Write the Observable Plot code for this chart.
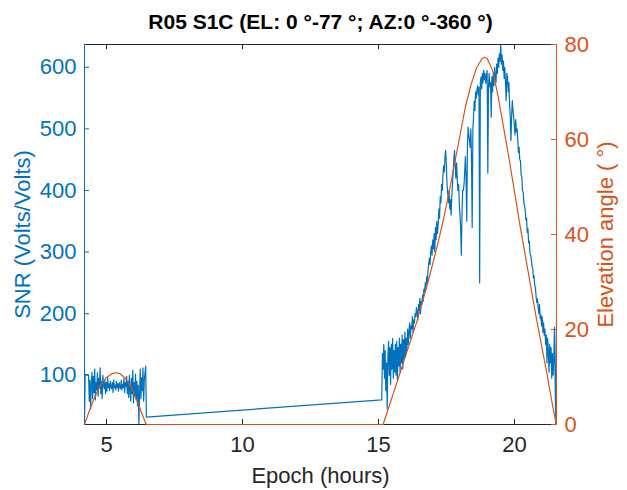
<!DOCTYPE html>
<html><head><meta charset="utf-8">
<script src="https://cdn.jsdelivr.net/npm/d3@7"></script>
<script src="https://cdn.jsdelivr.net/npm/@observablehq/plot@0.6"></script>
<style>
body{margin:0;background:#fff;}
#chart{position:relative;width:627px;height:490px;background:#fff;}
#chart svg{position:absolute;left:0;top:0;}
</style></head><body><div id="chart"></div>
<script>
// ---- data ----
const titleText = "R05 S1C (EL: 0 °-77 °; AZ:0 °-360 °)";
const xLabel = "Epoch (hours)";
const leftLabel = "SNR (Volts/Volts)";
const rightLabel = "Elevation angle ( °)";
const xTicks = [5, 10, 15, 20];
const snrTicks = [100, 200, 300, 400, 500, 600];
const elevTicks = [0, 20, 40, 60, 80];
const xDomain = [4.19, 21.545];
const snrDomain = [20, 637];
const elevDomain = [0, 80];

const sampleStep = 0.025;       // hours between SNR samples
const pass1Start = 4.19;        // first pass, hours
const pass2Start = 15.12;       // second pass, hours
const snrPass1 = [25,
 101,101,101,101,101,100,
 58,92,45,85,105,62,
 98,72,110,60,88,76,104,66,
 95,80,112,70,90,62,100,85,
 78,92,70,88,74,96,80,86,
 75,90,82,78,88,72,92,80,
 84,76,90,80,86,74,88,82,
 78,92,76,85,80,95,72,88,
 82,98,70,90,64,100,76,58,
 95,70,108,55,88,66,102,60,
 90,50,84,20,70,110,62,96,
 75,112,58,92,104,115,32];
const snrPass2 = [
 60,135,110,150,95,140,75,120,45,130,
 155,100,145,85,150,110,160,95,140,105,
 150,100,155,92,145,115,160,105,150,120,
 165,110,158,125,170,130,160,140,175,150,
 170,185,160,180,175,195,170,190,185,200,
 195,210,200,190,215,205,225,200,220,215,
 230,220,240,235,250,240,260,250,270,280,
 290,280,300,310,295,320,305,330,300,340,
 320,350,330,345,370,355,390,380,410,400,
 425,440,430,455,465,440,410,395,380,400,
 370,385,360,390,410,430,450,465,440,420,
 445,420,400,410,380,360,340,295,360,400,
 400,410,430,455,420,350,470,503,490,481,
 470,500,450,340,498,520,545,530,560,550,
 563,570,555,568,250,575,584,565,590,575,
 595,580,590,574,585,595,428,570,590,568,
 575,519,585,560,590,570,600,585,575,605,
 590,615,600,622,610,637,605,620,595,610,
 582,600,575,546,590,584,560,575,540,520,
 481,520,546,530,519,505,490,515,495,500,
 485,462,470,450,448,425,422,400,398,380,
 375,368,352,355,332,338,315,318,298,295,
 288,276,274,258,262,246,242,228,218,224,
 210,200,215,192,198,180,195,170,185,165,
 175,150,165,120,160,140,105,150,120,145,
 95,135,100,125,178,90,20,189];

const elevHours = [4.19,4.4,4.6,4.8,5.0,5.2,5.36,5.5,5.7,5.9,6.1,6.3,6.46,
 15.17,15.4,15.6,15.8,16.0,16.2,16.4,16.6,16.8,17.0,17.2,17.4,17.6,17.8,18.0,18.2,18.4,18.6,18.8,18.9,
 19.0,19.2,19.4,19.6,19.8,20.0,20.2,20.4,20.6,20.8,21.0,21.2,21.4,21.54];
const elevDeg = [0,3.4,6.2,8.4,9.9,10.7,10.9,10.7,9.7,7.9,5.3,2.3,0,
 0,4,7.5,11,14.5,18,21.5,25.5,29.5,34,38.5,43.5,49,55,61,67,71.5,75,77,77.3,
 77,74.5,69,62.5,56,49,42,35.5,29,22.5,16.5,10.5,4,0];

// ---- build tables ----
const snrData = [
  ...snrPass1.map((v, i) => ({h: pass1Start + i * sampleStep, v})),
  ...snrPass2.map((v, i) => ({h: pass2Start + i * sampleStep, v}))
];
const elevData = elevHours.map((h, i) => ({h, e: elevDeg[i]}));

// ---- style ----
const W = 627, H = 490;
const blue = "#0072BD", orange = "#D95319", dark = "#262626";
const font = "'Liberation Sans', Arial, Helvetica, sans-serif";
const common = {
  width: W, height: H,
  marginTop: 44, marginRight: 71, marginBottom: 66, marginLeft: 84,
  style: {background: "transparent", fontFamily: font, overflow: "visible"}
};
const innerW = W - 84 - 71, innerH = H - 44 - 66, tick = 5;
const tickFont = 22, labelFont = 22;

const leftPlot = Plot.plot({
  ...common,
  x: {domain: xDomain},
  y: {domain: snrDomain},
  marks: [
    Plot.line(snrData, {x: "h", y: "v", stroke: blue, strokeWidth: 1.2}),
    Plot.ruleY(snrDomain, {stroke: dark, strokeWidth: 1}),
    Plot.ruleX([xDomain[0]], {stroke: blue, strokeWidth: 1}),
    Plot.ruleX(xTicks, {stroke: dark, insetTop: innerH - tick}),
    Plot.ruleX(xTicks, {stroke: dark, insetBottom: innerH - tick}),
    Plot.ruleY(snrTicks, {stroke: blue, insetRight: innerW - tick}),
    Plot.axisX({ticks: xTicks, tickSize: 0, tickPadding: 12, fontSize: tickFont, color: dark, label: null}),
    Plot.axisY({ticks: snrTicks, tickSize: 0, tickPadding: 8, fontSize: tickFont, color: blue, label: null}),
    Plot.text([leftLabel], {frameAnchor: "left", dx: -62, rotate: -90, textAnchor: "middle", lineAnchor: "middle", fill: blue, fontSize: labelFont}),
    Plot.text([xLabel], {frameAnchor: "bottom", dy: 51, textAnchor: "middle", lineAnchor: "middle", fill: dark, fontSize: labelFont}),
    Plot.text([titleText], {frameAnchor: "top", dy: -22, textAnchor: "middle", lineAnchor: "middle", fill: "#000", fontSize: 21, fontWeight: "bold"})
  ]
});

const rightPlot = Plot.plot({
  ...common,
  x: {domain: xDomain, axis: null},
  y: {domain: elevDomain, axis: null},
  marks: [
    Plot.line(elevData, {x: "h", y: "e", stroke: orange, strokeWidth: 1.2}),
    Plot.ruleX([xDomain[1]], {stroke: orange, strokeWidth: 1}),
    Plot.ruleY(elevTicks, {stroke: orange, insetLeft: innerW - tick}),
    Plot.axisY({anchor: "right", ticks: elevTicks, tickSize: 0, tickPadding: 8, fontSize: tickFont, color: orange, label: null}),
    Plot.text([rightLabel], {frameAnchor: "right", dx: 49, rotate: -90, textAnchor: "middle", lineAnchor: "middle", fill: orange, fontSize: labelFont})
  ]
});

const chart = document.getElementById("chart");
chart.appendChild(leftPlot);
chart.appendChild(rightPlot);
</script></body></html>
